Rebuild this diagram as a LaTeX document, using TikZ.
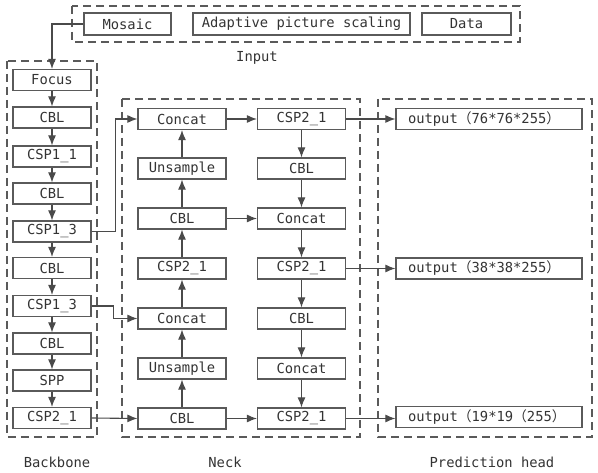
\documentclass[tikz,border=0pt]{standalone}
\usepackage{fontspec}
\usetikzlibrary{arrows.meta,calc}
\newfontfamily\monofam{DejaVu Sans Mono}
\newfontfamily\cjkfam{Noto Sans CJK SC}
\newcommand{\fwl}{{\cjkfam （}}
\newcommand{\fwr}{{\cjkfam ）}}
\definecolor{linec}{HTML}{4A4A4A}
\definecolor{boxc}{HTML}{5A5A5A}
\definecolor{txtc}{HTML}{333333}
\begin{document}
\begin{tikzpicture}[x=1pt,y=-1pt,
  blk/.style={draw=boxc, line width=1.2pt, minimum height=21pt, inner sep=0pt,
    text=txtc, font=\monofam\fontsize{13.8}{16}\selectfont},
  bb/.style={blk, minimum width=78pt},
  nk/.style={blk, minimum width=88pt},
  outbox/.style={blk, text width=162pt, inner xsep=12pt, align=left},
  group/.style={draw=boxc, line width=1.3pt, dash pattern=on 8pt off 5pt},
  lbl/.style={text=txtc, font=\monofam\fontsize{13.8}{16}\selectfont},
  arr/.style={draw=linec, line width=1.1pt, -{Latex[length=10pt,width=8pt]}}]
\useasboundingbox (0,0) rectangle (598,473);

% group frames
\draw[group] (72,6) rectangle (520,42);
\draw[group] (7,61) rectangle (97,437);
\draw[group] (122,99) rectangle (360,437);
\draw[group] (378,99) rectangle (592,437);

% input stage
\node[blk, minimum width=87pt, minimum height=22pt] (mos) at (127.5,24) {Mosaic};
\node[blk, minimum width=217pt, minimum height=22pt] (aps) at (301.5,24) {Adaptive picture scaling};
\node[blk, minimum width=89pt, minimum height=22pt] (dat) at (466.5,24) {Data};

% backbone
\node[bb] (b1) at (52,80) {Focus};
\node[bb] (b2) at (52,117.5) {CBL};
\node[bb] (b3) at (52,156.5) {CSP1\_1};
\node[bb] (b4) at (52,193.5) {CBL};
\node[bb] (b5) at (52,231.5) {CSP1\_3};
\node[bb] (b6) at (52,268) {CBL};
\node[bb] (b7) at (52,306) {CSP1\_3};
\node[bb] (b8) at (52,343.5) {CBL};
\node[bb] (b9) at (52,380.5) {SPP};
\node[bb] (b10) at (52,418) {CSP2\_1};

% neck, left column
\node[nk] (l1) at (182,119) {Concat};
\node[nk] (l2) at (182,168.5) {Unsample};
\node[nk] (l3) at (182,218.5) {CBL};
\node[nk] (l4) at (182,268.5) {CSP2\_1};
\node[nk] (l5) at (182,318.5) {Concat};
\node[nk] (l6) at (182,368.5) {Unsample};
\node[nk] (l7) at (182,418.5) {CBL};

% neck, right column
\node[nk] (r1) at (301.5,119) {CSP2\_1};
\node[nk] (r2) at (301.5,168.5) {CBL};
\node[nk] (r3) at (301.5,218.5) {Concat};
\node[nk] (r4) at (301.5,268.5) {CSP2\_1};
\node[nk] (r5) at (301.5,318.5) {CBL};
\node[nk] (r6) at (301.5,368.5) {Concat};
\node[nk] (r7) at (301.5,418.5) {CSP2\_1};

% prediction head
\node[outbox] (o1) at (489,119) {output\fwl 76*76*255\fwr};
\node[outbox] (o2) at (489,268.5) {output\fwl 38*38*255\fwr};
\node[outbox] (o3) at (489,417) {output\fwl 19*19\fwl 255\fwr};

% stage labels
\node[lbl] (tin) at (257,58) {Input};
\node[lbl] (tbb) at (57,462) {Backbone};
\node[lbl] (tnk) at (225,462) {Neck};
\node[lbl] (tph) at (492,462) {Prediction head};

% connectors
\draw[arr] (mos.west) -| (b1.north);
\foreach \a/\b in {b1/b2,b2/b3,b3/b4,b4/b5,b5/b6,b6/b7,b7/b8,b8/b9,b9/b10}
  \draw[arr] (\a) -- (\b);
\draw[arr] (b5.east) -- ++(24,0) |- (l1.west);
\draw[arr] (b7.east) -- ++(22,0) |- (l5.west);
\draw[arr] (b10.east) -- (l7.west);
\foreach \a/\b in {l7/l6,l6/l5,l5/l4,l4/l3,l3/l2,l2/l1}
  \draw[arr] (\a) -- (\b);
\foreach \a/\b in {r1/r2,r2/r3,r3/r4,r4/r5,r5/r6,r6/r7}
  \draw[arr] (\a) -- (\b);
\draw[arr] (l1) -- (r1);
\draw[arr] (l3) -- (r3);
\draw[arr] (l7) -- (r7);
\draw[arr] (r1.east) -- (o1.west |- r1.east);
\draw[arr] (r4.east) -- (o2.west |- r4.east);
\draw[arr] (r7.east) -- (o3.west |- r7.east);
\end{tikzpicture}
\end{document}
